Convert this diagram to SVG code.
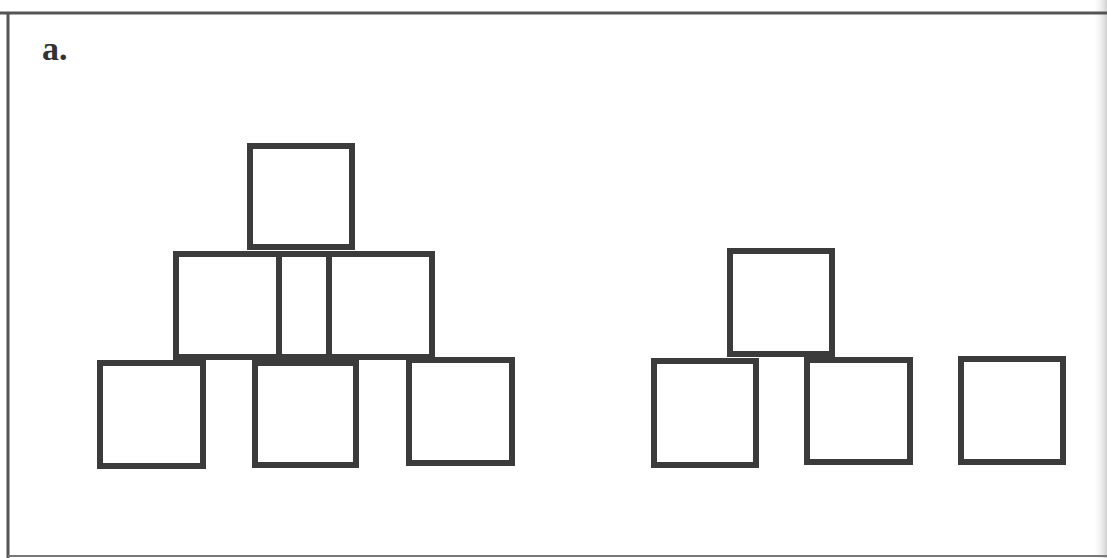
<svg xmlns="http://www.w3.org/2000/svg" width="1107" height="558" viewBox="0 0 1107 558">
  <defs>
    <linearGradient id="edge" x1="0" y1="0" x2="1" y2="0">
      <stop offset="0" stop-color="#ffffff" stop-opacity="0"/>
      <stop offset="1" stop-color="#d0d0d0"/>
    </linearGradient>
  </defs>
  <style>
    .sq { fill: none; stroke: #3b3b3b; stroke-width: 6; }
    .frame { fill: none; stroke: #555555; stroke-width: 3; }
    .lbl { font-family: "Liberation Serif", "DejaVu Serif", serif; font-weight: bold; font-size: 34px; fill: #333333; }
  </style>
  <rect x="0" y="0" width="1107" height="558" fill="#ffffff"/>
  <rect x="1092" y="0" width="15" height="558" fill="url(#edge)"/>
  <g id="frame">
    <line class="frame" x1="0" y1="13" x2="1107" y2="13"/>
    <line class="frame" x1="8" y1="13" x2="8" y2="558"/>
    <line x1="8" y1="556" x2="1107" y2="556" stroke="#777777" stroke-width="2"/>
  </g>
  <g id="label">
    <text class="lbl" x="42" y="60">a.</text>
  </g>
  <g id="pyramid">
    <g id="p-top"><rect class="sq" x="250" y="146" width="102" height="101"/></g>
    <g id="p-mid-left"><rect class="sq" x="176" y="254" width="103" height="103"/></g>
    <g id="p-mid-gap"><rect class="sq" x="279" y="254" width="50" height="103"/></g>
    <g id="p-mid-right"><rect class="sq" x="329" y="254" width="103" height="103"/></g>
    <g id="p-bot-left"><rect class="sq" x="100" y="363" width="103" height="103"/></g>
    <g id="p-bot-mid"><rect class="sq" x="255" y="363" width="101" height="102"/></g>
    <g id="p-bot-right"><rect class="sq" x="409" y="360" width="103" height="103"/></g>
  </g>
  <g id="group2">
    <g id="g-top"><rect class="sq" x="730" y="251" width="102" height="103"/></g>
    <g id="g-bot-left"><rect class="sq" x="654" y="361" width="102" height="104"/></g>
    <g id="g-bot-mid"><rect class="sq" x="807" y="360" width="103" height="102"/></g>
    <g id="g-single"><rect class="sq" x="961" y="359" width="102" height="103"/></g>
  </g>
  <g id="connectors"></g>
</svg>
